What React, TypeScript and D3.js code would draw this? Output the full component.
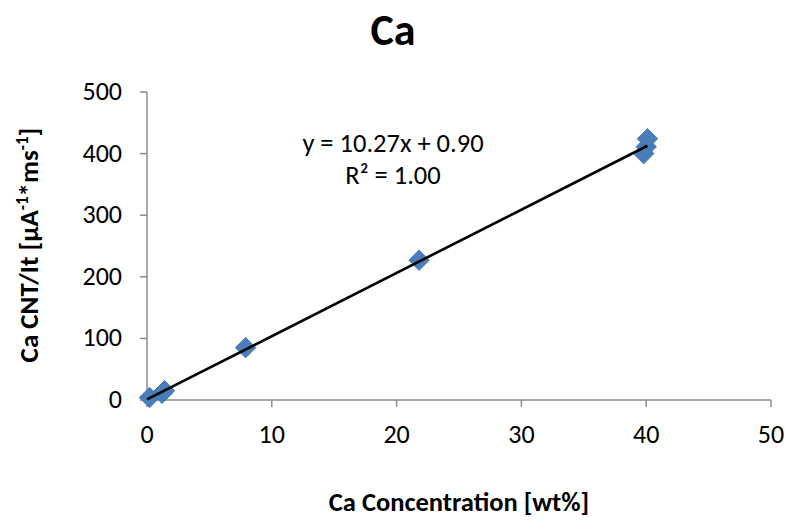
import React from "react";
import * as d3 from "d3";

// Calibration points: Ca concentration [wt%] vs CNT/It
const concentration = [0.2, 1.2, 1.4, 7.9, 21.8, 39.8, 40.0, 40.1];
const cntPerIt = [4, 11, 15, 85, 227, 400, 411, 424];
const xTicks = [0, 10, 20, 30, 40, 50];
const yTicks = [0, 100, 200, 300, 400, 500];
const slope = 10.27;
const intercept = 0.9;

const W = 787;
const H = 520;
const margin = { left: 147, right: 16, top: 92, bottom: 120 };

export default function App() {
  const x = d3.scaleLinear().domain([0, 50]).range([margin.left, W - margin.right]);
  const y = d3.scaleLinear().domain([0, 500]).range([H - margin.bottom, margin.top]);
  const font = "Carlito, 'Open Sans', 'Liberation Sans', Arial, sans-serif";
  const diamond = d3.symbol().type(d3.symbolDiamond2).size(270)();
  const x0 = 0;
  const x1 = d3.max(concentration) as number;
  const line = d3.line<number>()
    .x((v) => x(v))
    .y((v) => y(slope * v + intercept));

  return (
    <svg width={W} height={H} style={{ position: "absolute", left: 0, top: 0, background: "#fff" }} fontFamily={font}>
      <text x={393} y={45} textAnchor="middle" fontSize={44} fontWeight="bold">Ca</text>
      {/* axes */}
      <line x1={x(0)} x2={x(50)} y1={y(0)} y2={y(0)} stroke="#8c8c8c" strokeWidth={1.5} />
      <line x1={x(0)} x2={x(0)} y1={y(0)} y2={y(500)} stroke="#8c8c8c" strokeWidth={1.5} />
      {xTicks.map((t) => (
        <g key={"x" + t}>
          <line x1={x(t)} x2={x(t)} y1={y(0)} y2={y(0) + 7} stroke="#8c8c8c" strokeWidth={1.5} />
          <text x={x(t)} y={y(0) + 43} textAnchor="middle" fontSize={26}>{t}</text>
        </g>
      ))}
      {yTicks.map((t) => (
        <g key={"y" + t}>
          <line x1={x(0) - 7} x2={x(0)} y1={y(t)} y2={y(t)} stroke="#8c8c8c" strokeWidth={1.5} />
          <text x={x(0) - 25} y={y(t) + 8} textAnchor="end" fontSize={26}>{t}</text>
        </g>
      ))}
      {concentration.map((c, i) => (
        <path key={i} d={diamond as string} transform={`translate(${x(c)},${y(cntPerIt[i])})`} fill="#4a7ebb" stroke="#3f72ad" strokeWidth={0.8} />
      ))}
      <path d={line([x0, x1]) as string} stroke="#000" strokeWidth={2.6} fill="none" />
      <text x={393} y={152} textAnchor="middle" fontSize={26.5}>y = 10.27x + 0.90</text>
      <text x={393} y={184} textAnchor="middle" fontSize={26.5}>R² = 1.00</text>
      <text x={459} y={511} textAnchor="middle" fontSize={26.5} fontWeight="bold">Ca Concentration [wt%]</text>
      <text transform={`translate(38,${245}) rotate(-90)`} textAnchor="middle" fontSize={27} fontWeight="bold">
        Ca CNT/It [µA<tspan dy={-10} fontSize={17}>-1</tspan><tspan dy={10}>*ms</tspan><tspan dy={-10} fontSize={17}>-1</tspan><tspan dy={10}>]</tspan>
      </text>
    </svg>
  );
}
